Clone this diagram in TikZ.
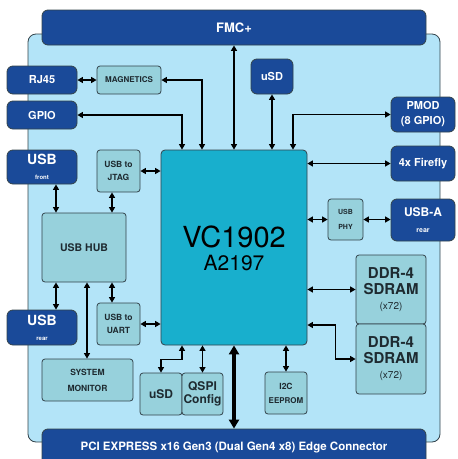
\documentclass[tikz,border=0pt]{standalone}
\usepackage{fontspec}
\setmainfont{TeX Gyre Heros}
\usetikzlibrary{arrows.meta,calc}
\definecolor{dblue}{HTML}{1A4A99}
\definecolor{board}{HTML}{B3E4F8}
\definecolor{teal}{HTML}{97D1DC}
\definecolor{chip}{HTML}{18AFCD}
\definecolor{edge}{HTML}{33434B}
\definecolor{ttext}{HTML}{1E2A30}
\newcommand{\fs}[1]{\fontsize{#1}{#1}\selectfont}
\tikzset{
  dbox/.style={draw=edge, line width=0.8pt, fill=dblue, rounded corners=6pt, text=white, font=\bfseries, align=center, inner sep=0pt},
  tbox/.style={draw=edge, line width=0.8pt, fill=teal, rounded corners=3pt, text=ttext, font=\bfseries, align=center, inner sep=0pt},
  arr/.style={line width=1.6pt, {Triangle[length=5.5pt,width=6pt]}-{Triangle[length=5.5pt,width=6pt]}},
  bigarr/.style={line width=3.6pt, {Triangle[length=9pt,width=10pt]}-{Triangle[length=9pt,width=10pt]}},
}
\begin{document}
\begin{tikzpicture}[x=1pt,y=-1pt]
\useasboundingbox (0,0) rectangle (458,459);
% board
\node[draw=edge, line width=0.8pt, fill=board, rounded corners=8pt, minimum width=412pt, minimum height=408pt, inner sep=0pt] (brd) at (234,238) {};
% dark blue blocks
\node[dbox, minimum width=384pt, minimum height=35pt] (fmc) at (234,27.5) {\fs{13}FMC+};
\node[dbox, minimum width=384pt, minimum height=36pt] (pcie) at (234,447) {\fs{11.5}PCI EXPRESS x16 Gen3 (Dual Gen4 x8) Edge Connector};
\node[dbox, minimum width=70pt, minimum height=28pt] (rj45) at (42,80) {\fs{11}RJ45};
\node[dbox, minimum width=70pt, minimum height=28pt] (gpio) at (42,115) {\fs{11}GPIO};
\node[dbox, minimum width=70pt, minimum height=34pt] (usbf) at (42,167) {\fs{14}USB\\[3pt]\fs{6}front};
\node[dbox, minimum width=70pt, minimum height=35pt] (usbr) at (42,327.5) {\fs{14}USB\\[3pt]\fs{6}rear};
\node[dbox, minimum width=42pt, minimum height=35pt] (usdt) at (272,76.5) {\fs{11}uSD};
\node[dbox, minimum width=64pt, minimum height=35pt] (pmod) at (423,114.5) {\fs{11}PMOD\\[3pt]\fs{11}(8 GPIO)};
\node[dbox, minimum width=64pt, minimum height=35pt] (ff) at (423,163.5) {\fs{11}4x Firefly};
\node[dbox, minimum width=64pt, minimum height=42pt] (usba) at (423,220) {\fs{12}USB-A\\[4pt]\fs{7}rear};
% teal blocks
\node[tbox, minimum width=64pt, minimum height=28pt] (mag) at (129,80) {\fs{8}MAGNETICS};
\node[tbox, minimum width=43pt, minimum height=42pt] (jtag) at (118.5,171) {\fs{8.5}USB to\\[1pt]\fs{8.5}JTAG};
\node[tbox, minimum width=35pt, minimum height=41pt] (phy) at (345.5,219.5) {\fs{7}USB\\[3pt]\fs{7}PHY};
\node[tbox, minimum width=84pt, minimum height=69pt] (hub) at (84,247.5) {\fs{10.5}USB HUB};
\node[tbox, minimum width=43pt, minimum height=42pt] (uart) at (118.5,324) {\fs{8.5}USB to\\[1pt]\fs{8.5}UART};
\node[tbox, minimum width=91pt, minimum height=42pt] (sysmon) at (87.5,380) {\fs{8.5}SYSTEM\\[4pt]\fs{8.5}MONITOR};
\node[tbox, minimum width=42pt, minimum height=42pt] (usdb) at (161,394) {\fs{12}uSD};
\node[tbox, minimum width=41pt, minimum height=42pt] (qspi) at (202.5,394) {\fs{12}QSPI\\[1pt]\fs{12}Config};
\node[tbox, minimum width=42pt, minimum height=42pt] (i2c) at (286,393) {\fs{8.5}I2C\\[2pt]\fs{8}EEPROM};
\node[tbox, minimum width=70pt, minimum height=69pt] (ddr1) at (391,289.5) {\fs{15}DDR-4\\[4pt]\fs{15}SDRAM\\[3pt]\mdseries\fs{10}(x72)};
\node[tbox, minimum width=70pt, minimum height=70pt] (ddr2) at (391,359) {\fs{15}DDR-4\\[4pt]\fs{15}SDRAM\\[3pt]\mdseries\fs{10}(x72)};
% chip
\node[draw=edge, line width=0.8pt, fill=chip, rounded corners=4pt, minimum width=146pt, minimum height=195pt, inner sep=0pt] (vc) at (234,247.5) {};
\node[inner sep=0pt, text=black] (vcname) at (234,237) {\fs{29}VC1902};
\node[inner sep=0pt, text=black] (vcpart) at (234,263) {\fs{21}A2197};
% connectors
\draw[arr] (fmc.south) -- (vc.north);
\draw[arr] (usdt.south) -- (vc.north -| usdt.south);
\draw[arr] (vc.north -| 293,0) |- (pmod.west);
\draw[arr] (vc.east |- ff.west) -- (ff.west);
\draw[arr] (vc.east |- phy.west) -- (phy.west);
\draw[arr] (phy.east) -- (usba.west |- phy.east);
\draw[arr] (mag.east) -| (vc.north -| 202,0);
\draw[arr] (gpio.east) -| (vc.north -| 182,0);
\draw[arr] (rj45.east) -- (mag.west);
\draw[arr] (jtag.east) -- (vc.west |- jtag.east);
\draw[arr] (usbf.south -| 56,0) -- (hub.north -| 56,0);
\draw[arr] (jtag.south -| 112,0) -- (hub.north -| 112,0);
\draw[arr] (hub.south -| 56,0) -- (usbr.north -| 56,0);
\draw[arr] (hub.south -| 112,0) -- (uart.north -| 112,0);
\draw[arr] (hub.south -| 87,0) -- (sysmon.north -| 87,0);
\draw[arr] (uart.east) -- (vc.west |- uart.east);
\draw[arr] (vc.south -| 182,0) -- ++(0,14) -| (usdb.north);
\draw[arr] (vc.south -| qspi.north) -- (qspi.north);
\draw[arr] (vc.south -| i2c.north) -- (i2c.north);
\draw[bigarr] (vc.south) -- (pcie.north);
\draw[arr] (vc.east |- ddr1.west) -- (ddr1.west);
\draw[arr] (vc.east |- 0,325) -- ++(28,0) |- (ddr2.west);
\end{tikzpicture}
\end{document}
